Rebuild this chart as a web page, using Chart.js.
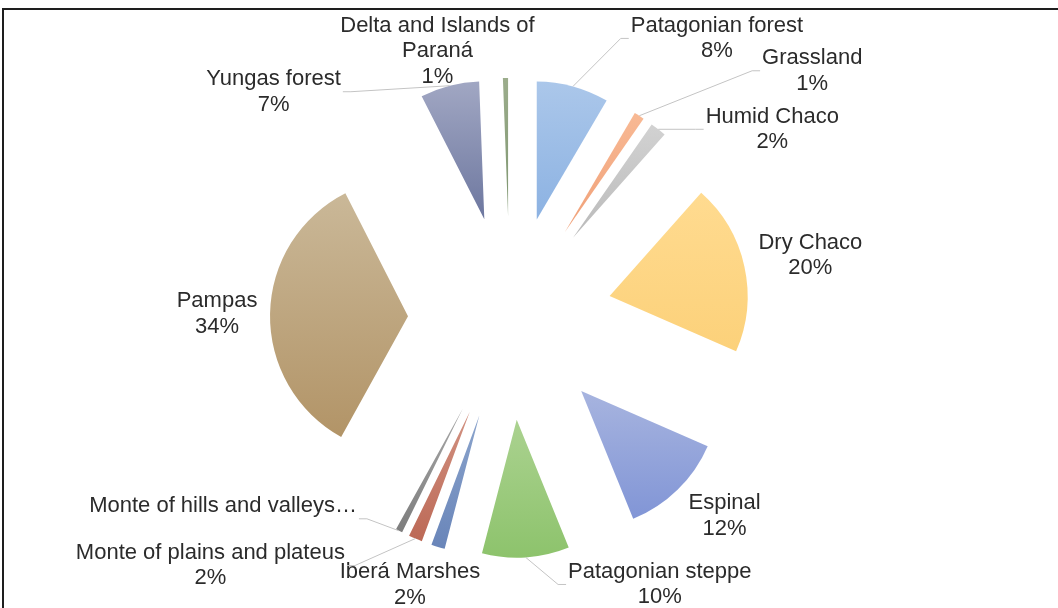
<!DOCTYPE html>
<html>
<head>
<meta charset="utf-8">
<script src="https://cdn.jsdelivr.net/npm/chart.js@4.4.0/dist/chart.umd.min.js"></script>
<style>
  html, body { margin: 0; padding: 0; background: #fff; overflow: hidden; }
  .frame { position: absolute; left: 2px; top: 8px; width: 1100px; height: 700px;
           border-top: 2px solid #1e1e1e; border-left: 2px solid #1e1e1e; }
  #pie { position: absolute; left: 0; top: 0; }
</style>
</head>
<body>
<div class="frame"></div>
<canvas id="pie" width="1058" height="608"></canvas>
<script>
const regions = [
  'Patagonian forest', 'Grassland', 'Humid Chaco', 'Dry Chaco', 'Espinal',
  'Patagonian steppe', 'Iberá Marshes', 'Monte of plains and plateus',
  'Monte of hills and valleys', 'Pampas', 'Yungas forest', 'Delta and Islands of Paraná'
]
// share of each region, %
const shares = [8.45, 1.2, 1.9, 20.0, 12.3, 10.2, 1.6, 1.6, 0.8, 34.45, 6.9, 0.6]

const topColors = [
  '#abc7ea', '#f8b994', '#d2d2d2', '#ffdb90', '#a7b4df', '#abd290',
  '#8ba4cc', '#d29282', '#a8a8a8', '#cab898', '#a1a7c3', '#9cad8c'
]
const bottomColors = [
  '#8cb2e2', '#f0a078', '#bababa', '#fcd17a', '#8195d6', '#8dc36c',
  '#6985b9', '#bc6956', '#7d7d7d', '#b29467', '#6d779f', '#7c946e'
]

// label box centre, relative to the outer middle of its (exploded) slice
const labelShift = [
  [144, -48], [173, -45], [114, 0], [66, -11], [47, 26], [134, 27],
  [-28, 38], [-205, 27], [-176, -12], [-53, 0], [-176, 6], [-68, -27]
]

const EXPLODE = 102
const RADIUS = 138
const LINE = 25.5

const total = shares.reduce((a, b) => a + b, 0)

function labelLines(i) {
  const pct = Math.round(shares[i] / total * 100) + '%'
  if (i === 11) return ['Delta and Islands of', 'Paraná', pct]
  if (i === 8) return [regions[i] + '…', '']
  return [regions[i], pct]
}

// vertical gradient spanning each slice
function sliceGradient(context) {
  const chart = context.chart
  const area = chart.chartArea
  const i = context.dataIndex
  if (!area) return bottomColors[i]
  const cy = (area.top + area.bottom) / 2
  let before = 0
  for (let k = 0; k < i; k++) before += shares[k]
  const a0 = -Math.PI / 2 + before / total * Math.PI * 2
  const a1 = a0 + shares[i] / total * Math.PI * 2
  let ymin = cy, ymax = cy
  for (let s = 0; s <= 24; s++) {
    const y = cy + RADIUS * Math.sin(a0 + (a1 - a0) * s / 24)
    ymin = Math.min(ymin, y)
    ymax = Math.max(ymax, y)
  }
  const g = chart.ctx.createLinearGradient(0, ymin, 0, ymax + 0.1)
  g.addColorStop(0, topColors[i])
  g.addColorStop(1, bottomColors[i])
  return g
}

// Chart.js offset also grows thin slices, so push every slice out by hand.
const drawArc = Chart.ArcElement.prototype.draw
Chart.ArcElement.prototype.draw = function (ctx) {
  const mid = (this.startAngle + this.endAngle) / 2
  ctx.save()
  ctx.translate(Math.cos(mid) * EXPLODE, Math.sin(mid) * EXPLODE)
  drawArc.call(this, ctx)
  ctx.restore()
}

const sliceLabels = {
  id: 'sliceLabels',
  afterDatasetsDraw(chart) {
    const ctx = chart.ctx
    const arcs = chart.getDatasetMeta(0).data
    ctx.save()
    ctx.font = '22px "Liberation Sans", Arial, sans-serif'
    ctx.textAlign = 'center'
    ctx.textBaseline = 'middle'
    arcs.forEach((arc, i) => {
      const mid = (arc.startAngle + arc.endAngle) / 2
      const px = arc.x + Math.cos(mid) * (EXPLODE + arc.outerRadius)
      const py = arc.y + Math.sin(mid) * (EXPLODE + arc.outerRadius)
      const lines = labelLines(i)
      const cx = px + labelShift[i][0]
      const cy = py + labelShift[i][1]
      const w = Math.max(...lines.map(t => ctx.measureText(t).width))
      const h = lines.length * LINE
      const left = cx - w / 2, right = cx + w / 2
      const top = cy - h / 2, bottom = cy + h / 2

      // leader line when the label sits away from its slice
      const nx = Math.min(Math.max(px, left), right)
      const ny = Math.min(Math.max(py, top), bottom)
      if (Math.hypot(px - nx, py - ny) > 25) {
        let ax, ay, sx, sy
        if (px < left) { ax = left - 2; ay = cy; sx = ax - 8; sy = ay }
        else if (px > right) { ax = right + 2; ay = cy; sx = ax + 8; sy = ay }
        else if (py < top) { ax = cx; ay = top; sx = ax; sy = ay - 6 }
        else { ax = cx; ay = bottom; sx = ax; sy = ay + 6 }
        ctx.strokeStyle = '#c4c4c4'
        ctx.lineWidth = 1
        ctx.beginPath()
        ctx.moveTo(ax, ay)
        ctx.lineTo(sx, sy)
        ctx.lineTo(px, py)
        ctx.stroke()
      }

      ctx.fillStyle = '#2b2b2b'
      lines.forEach((t, k) => ctx.fillText(t, cx, top + LINE * (k + 0.5)))
    })
    ctx.restore()
  }
}

new Chart(document.getElementById('pie'), {
  type: 'pie',
  data: {
    labels: regions,
    datasets: [{
      data: shares,
      backgroundColor: sliceGradient,
      borderWidth: 0
    }]
  },
  options: {
    responsive: false,
    animation: false,
    events: [],
    radius: RADIUS,
    layout: { padding: { left: 0, right: 38, top: 28, bottom: 0 } },
    plugins: {
      legend: { display: false },
      tooltip: { enabled: false }
    }
  },
  plugins: [sliceLabels]
})
</script>
</body>
</html>
